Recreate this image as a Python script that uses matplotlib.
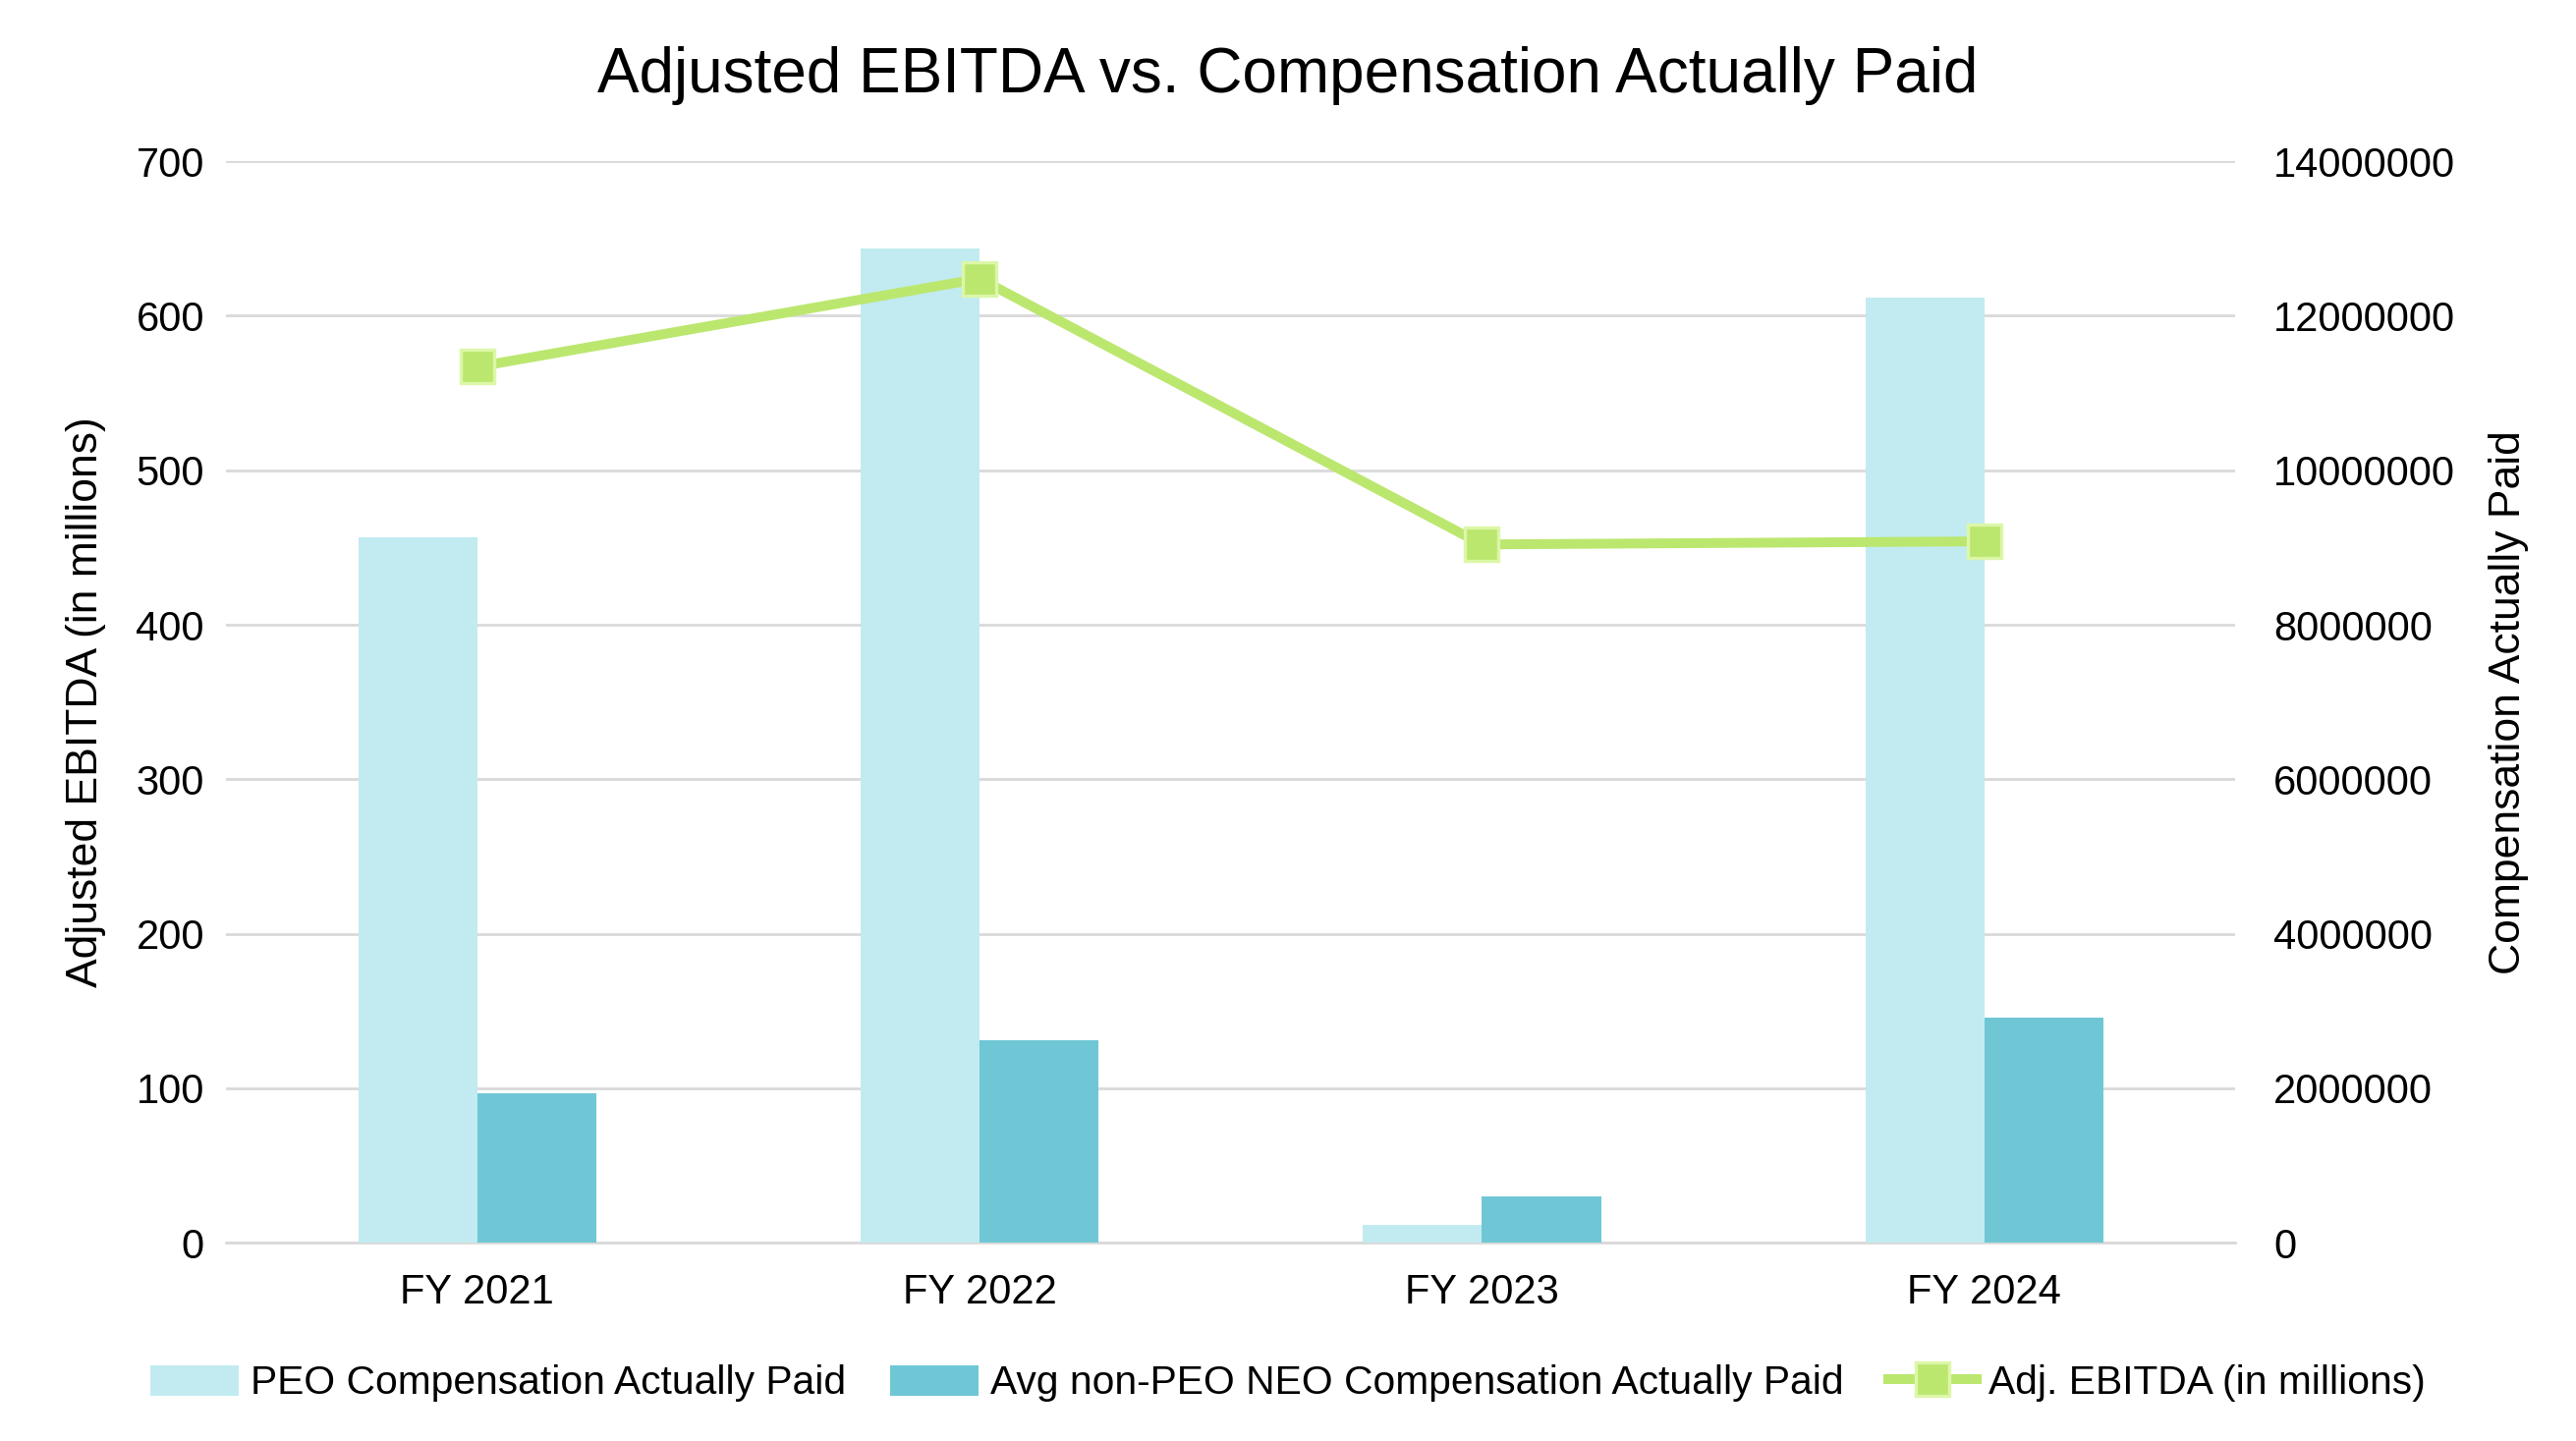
import numpy as np
import matplotlib.pyplot as plt

plt.rcParams['font.family'] = ['Liberation Sans', 'DejaVu Sans']

years = ['FY 2021', 'FY 2022', 'FY 2023', 'FY 2024']
peo_cap = [9130000, 12870000, 230000, 12230000]
neo_cap = [1940000, 2620000, 600000, 2910000]
ebitda = [567, 624, 452, 454]

light = '#c1ebf1'
dark = '#6fc7d5'
green = '#bbe76f'

fig = plt.figure(figsize=(13.11, 7.335), dpi=200)
ax = fig.add_axes([0.0878, 0.1375, 0.780, 0.7506])
ax2 = ax.twinx()

x = np.arange(len(years))
w = 0.237
# bars go on the right axis, line on the left
ax2.bar(x - w / 2, peo_cap, w, color=light, label='PEO Compensation Actually Paid', zorder=2)
ax2.bar(x + w / 2, neo_cap, w, color=dark, label='Avg non-PEO NEO Compensation Actually Paid', zorder=2)
ax2.set_ylim(0, 14000000)
ax2.set_yticks(np.arange(0, 14000001, 2000000))
ax2.set_yticklabels([str(v) for v in range(0, 14000001, 2000000)])

ax.set_ylim(0, 700)
ax.set_yticks(np.arange(0, 701, 100))
ax.set_xlim(-0.5, 3.5)
ax.set_xticks(x)
ax.set_xticklabels(years)
ax.grid(axis='y', color='#d9d9d9', linewidth=1.0, zorder=0)
ax.set_axisbelow(True)

# line drawn on a third overlay so it sits above bars
ax3 = ax.twinx()
ax3.set_ylim(0, 700)
ax3.axis('off')
ax3.plot(x, ebitda, color=green, linewidth=3.6, marker='s', markersize=12.5,
         markerfacecolor=green, markeredgecolor='#dcf7a8', markeredgewidth=1.2,
         label='Adj. EBITDA (in millions)', zorder=5)

for a in (ax, ax2, ax3):
    for s in a.spines.values():
        s.set_visible(False)
ax.spines['bottom'].set_visible(True)
ax.spines['bottom'].set_color('#d9d9d9')
ax.spines['bottom'].set_linewidth(1.0)

ax.tick_params(axis='both', length=0, labelsize=15, pad=8)
ax.tick_params(axis='x', pad=11)
ax2.tick_params(axis='y', length=0, labelsize=15, pad=14)

ax.set_ylabel('Adjusted EBITDA (in millions)', fontsize=16, labelpad=11)
ax2.set_ylabel('Compensation Actually Paid', fontsize=16, labelpad=12)

fig.suptitle('Adjusted EBITDA vs. Compensation Actually Paid', fontsize=23, y=0.968)

h1, l1 = ax2.get_legend_handles_labels()
h2, l2 = ax3.get_legend_handles_labels()
fig.legend(h1 + h2, l1 + l2, loc='center', bbox_to_anchor=(0.5, 0.04), ncol=3,
           frameon=False, fontsize=14.7, handlelength=2.2, handleheight=0.8,
           columnspacing=1.1, handletextpad=0.3)

fig.savefig('out.png', dpi=200)
